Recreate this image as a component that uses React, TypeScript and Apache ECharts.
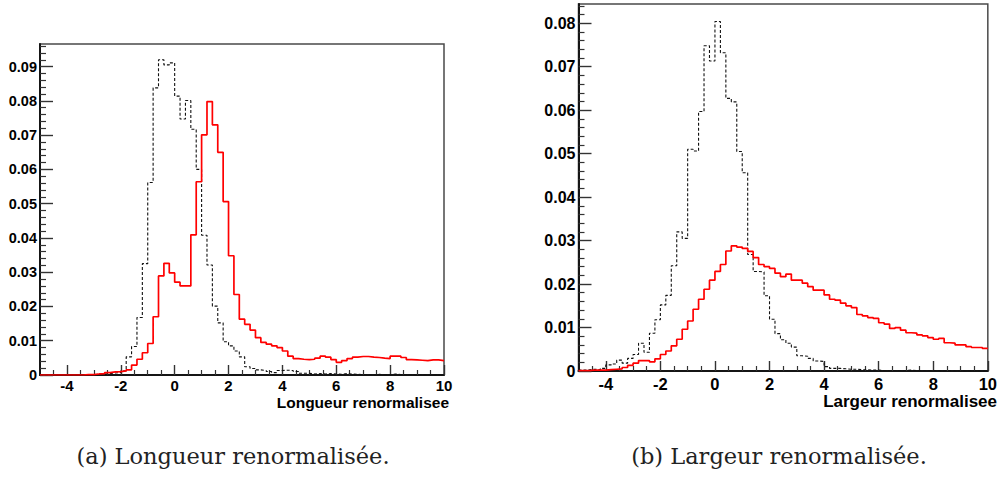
import React, { useEffect, useRef } from 'react';
import * as echarts from 'echarts';

// Histogram binning (75 bins of width 0.2 from -5 to 10)
const BIN_START = -5;
const BIN_WIDTH = 0.2;

// (a) Longueur renormalisee
const longueurBlack = [
  0, 0, 0, 0, 0, 0, 0, 0,
  0.0001, 0.0001, 0.0002, 0.0003, 0.0004, 0.0006, 0.0007, 0.0012,
  0.0053, 0.0083, 0.0168, 0.0325, 0.0562, 0.0838, 0.0920, 0.0905, 0.0911,
  0.0814, 0.0747, 0.0801, 0.0717, 0.0600, 0.0408, 0.0321, 0.0201, 0.0152, 0.0097,
  0.0085, 0.0070, 0.0053, 0.0024, 0.0019, 0.0015, 0.0013, 0.0010, 0.0007, 0.0013,
  0.0014, 0.0013, 0.0010, 0.0005, 0.0005, 0.0003, 0.0004, 0.0003, 0.0004, 0.0003,
  0.0002, 0.0004, 0.0003, 0.0002, 0.0001, 0.0001, 0.0001, 0.0002, 0.0001, 0.0001,
  0.0003, 0.0001, 0.0001, 0.0001, 0, 0.0001, 0, 0.0001, 0, 0,
];
const longueurRed = [
  0, 0, 0, 0, 0, 0, 0, 0, 0.0001, 0.0001,
  0.0003, 0.0004, 0.0007, 0.0009, 0.0010, 0.0012, 0.0015, 0.0029, 0.0046, 0.0065,
  0.0092, 0.0170, 0.0289, 0.0326, 0.0298, 0.0271, 0.0260, 0.0260, 0.0409, 0.0564,
  0.0701, 0.0798, 0.0730, 0.0650, 0.0506, 0.0348, 0.0235, 0.0163, 0.0148, 0.0131,
  0.0109, 0.0095, 0.0090, 0.0085, 0.0080, 0.0070, 0.0055, 0.0048, 0.0046, 0.0045,
  0.0046, 0.0049, 0.0055, 0.0052, 0.0045, 0.0037, 0.0042, 0.0048, 0.0052, 0.0054,
  0.0054, 0.0052, 0.0051, 0.0049, 0.0048, 0.0055, 0.0055, 0.0051, 0.0045, 0.0044,
  0.0043, 0.0042, 0.0044, 0.0044, 0.0042,
];

// (b) Largeur renormalisee
const largeurBlack = [
  0.0002, 0.0003, 0.0004, 0.0003, 0.0006, 0.0014, 0.0016, 0.0025, 0.0018, 0.0029,
  0.0038, 0.0064, 0.0043, 0.0087, 0.0118, 0.0152, 0.0174, 0.0242, 0.0320, 0.0305,
  0.0510, 0.0506, 0.0597, 0.0748, 0.0713, 0.0804, 0.0732, 0.0627, 0.0619, 0.0505,
  0.0456, 0.0268, 0.0229, 0.0228, 0.0173, 0.0119, 0.0086, 0.0072, 0.0064, 0.0055,
  0.0035, 0.0034, 0.0029, 0.0023, 0.0022, 0.0010, 0.0006, 0.0006, 0.0005, 0.0004,
  0.0004, 0.0003, 0.0003, 0.0002, 0.0002, 0.0001, 0.0001, 0.0001, 0.0001, 0.0001,
  0.0002, 0.0001, 0.0001, 0.0001, 0.0001, 0.0001, 0, 0.0001, 0, 0,
  0, 0, 0, 0, 0,
];
const largeurRed = [
  0.0001, 0.0001, 0.0002, 0.0002, 0.0002, 0.0003, 0.0004, 0.0005, 0.0008, 0.0013,
  0.0018, 0.0024, 0.0024, 0.0021, 0.0028, 0.0038, 0.0046, 0.0058, 0.0073, 0.0096,
  0.0115, 0.0142, 0.0165, 0.0188, 0.0209, 0.0229, 0.0245, 0.0276, 0.0288, 0.0285,
  0.0282, 0.0275, 0.0261, 0.0245, 0.0240, 0.0236, 0.0225, 0.0217, 0.0223, 0.0209,
  0.0209, 0.0202, 0.0194, 0.0186, 0.0186, 0.0175, 0.0165, 0.0163, 0.0156, 0.0150,
  0.0146, 0.0130, 0.0127, 0.0123, 0.0121, 0.0111, 0.0108, 0.0098, 0.0100, 0.0094,
  0.0088, 0.0087, 0.0083, 0.0081, 0.0077, 0.0073, 0.0075, 0.0065, 0.0064, 0.0060,
  0.0060, 0.0056, 0.0054, 0.0054, 0.0052,
];

// Axis ticks / labels
const xTicks = [-4, -2, 0, 2, 4, 6, 8, 10];
const xMinorStep = 0.5;
const yTicksA = [0, 0.01, 0.02, 0.03, 0.04, 0.05, 0.06, 0.07, 0.08, 0.09];
const yTicksB = [0, 0.01, 0.02, 0.03, 0.04, 0.05, 0.06, 0.07, 0.08];
const yMinorStep = 0.002;

const xTitleA = 'Longueur renormalisee';
const xTitleB = 'Largeur renormalisee';
const captionA = '(a) Longueur renormalisée.';
const captionB = '(b) Largeur renormalisée.';

const X_MIN = -5;
const X_MAX = 10;
const SANS = '"Liberation Sans", Arial, Helvetica, sans-serif';
const SERIF = '"DejaVu Serif", serif';

function histPoints(values: number[]) {
  const pts: number[][] = values.map((v, i) => [+(BIN_START + i * BIN_WIDTH).toFixed(6), v]);
  pts.push([+(BIN_START + values.length * BIN_WIDTH).toFixed(6), values[values.length - 1]]);
  return pts;
}

function minorTicks(min: number, max: number, step: number, majors: number[]) {
  const out: number[] = [];
  const n = Math.floor((max - min) / step + 1e-9);
  for (let k = 0; k <= n; k++) {
    const v = +(min + k * step).toFixed(6);
    if (v <= min + 1e-9 || v >= max - 1e-9) continue;
    if (majors.some((m) => Math.abs(m - v) < 1e-9)) continue;
    out.push(v);
  }
  return out;
}

function makeAxes(grid: number, yMax: number, yTicks: number[], fsY: number, fsX: number, xMargin: number) {
  const xMinor = minorTicks(X_MIN, X_MAX, xMinorStep, xTicks);
  const yMinor = minorTicks(0, yMax, yMinorStep, yTicks);
  const xAxes = [
    {
      type: 'value', gridIndex: grid, min: X_MIN, max: X_MAX, position: 'bottom',
      axisLine: { show: true, onZero: false, lineStyle: { color: '#151515', width: 2 } },
      axisTick: { show: true, inside: true, length: 10, customValues: xTicks, lineStyle: { color: '#333', width: 1.4 } },
      axisLabel: {
        show: true, customValues: xTicks, margin: xMargin, color: '#000', fontFamily: SANS,
        fontWeight: 'bold', fontSize: fsX, formatter: (v: number) => String(v),
      },
      splitLine: { show: false },
    },
    {
      type: 'value', gridIndex: grid, min: X_MIN, max: X_MAX, position: 'bottom',
      axisLine: { show: false, onZero: false },
      axisTick: { show: true, inside: true, length: 5, customValues: xMinor, lineStyle: { color: '#333', width: 1.2 } },
      axisLabel: { show: false },
      splitLine: { show: false },
    },
  ];
  const yAxes = [
    {
      type: 'value', gridIndex: grid, min: 0, max: yMax, position: 'left',
      axisLine: { show: true, onZero: false, lineStyle: { color: '#151515', width: 2 } },
      axisTick: { show: true, inside: true, length: 13, customValues: yTicks, lineStyle: { color: '#333', width: 1.4 } },
      axisLabel: {
        show: true, customValues: yTicks, margin: 3, color: '#000', fontFamily: SANS,
        fontWeight: 'bold', fontSize: fsY, formatter: (v: number) => (v === 0 ? '0' : v.toFixed(2)),
      },
      splitLine: { show: false },
    },
    {
      type: 'value', gridIndex: grid, min: 0, max: yMax, position: 'left',
      axisLine: { show: false, onZero: false },
      axisTick: { show: true, inside: true, length: 6, customValues: yMinor, lineStyle: { color: '#333', width: 1.2 } },
      axisLabel: { show: false },
      splitLine: { show: false },
    },
  ];
  return { xAxes, yAxes };
}

export default function App() {
  const ref = useRef<HTMLDivElement>(null);

  useEffect(() => {
    if (!ref.current) return;
    const chart = echarts.init(ref.current, undefined, { renderer: 'svg' });

    const yMaxA = 1.05 * Math.max(...longueurBlack, ...longueurRed);
    const yMaxB = 1.05 * Math.max(...largeurBlack, ...largeurRed);

    const a = makeAxes(0, yMaxA, yTicksA, 14.5, 15, 3);
    const b = makeAxes(1, yMaxB, yTicksB, 16, 16.5, 4);

    const redStyle = { color: '#ff0000', width: 1.7 };
    const blackStyle = { color: '#111', width: 1.1, type: [3, 2] };

    const option: any = {
      animation: false,
      backgroundColor: '#ffffff',
      grid: [
        { left: 40, top: 44, width: 404, height: 331, show: true, borderColor: '#4a4a4a', borderWidth: 1.5, backgroundColor: 'transparent' },
        { left: 578.5, top: 4, width: 410, height: 367, show: true, borderColor: '#4a4a4a', borderWidth: 1.5, backgroundColor: 'transparent' },
      ],
      xAxis: [...a.xAxes, ...b.xAxes],
      yAxis: [...a.yAxes, ...b.yAxes],
      series: [
        { type: 'line', name: 'a-black', xAxisIndex: 0, yAxisIndex: 0, step: 'end', symbol: 'none', data: histPoints(longueurBlack), lineStyle: blackStyle, clip: true, z: 2 },
        { type: 'line', name: 'a-red', xAxisIndex: 0, yAxisIndex: 0, step: 'end', symbol: 'none', data: histPoints(longueurRed), lineStyle: redStyle, clip: true, z: 3 },
        { type: 'line', name: 'b-black', xAxisIndex: 2, yAxisIndex: 2, step: 'end', symbol: 'none', data: histPoints(largeurBlack), lineStyle: blackStyle, clip: true, z: 2 },
        { type: 'line', name: 'b-red', xAxisIndex: 2, yAxisIndex: 2, step: 'end', symbol: 'none', data: histPoints(largeurRed), lineStyle: redStyle, clip: true, z: 3 },
      ],
      graphic: [
        {
          type: 'text', x: 449, y: 402.5,
          style: { text: xTitleA, align: 'right', verticalAlign: 'middle', textAlign: 'right', textVerticalAlign: 'middle', fontFamily: SANS, fontWeight: 'bold', fontSize: 15.5, fill: '#000' },
        },
        {
          type: 'text', x: 997, y: 401.5,
          style: { text: xTitleB, align: 'right', verticalAlign: 'middle', textAlign: 'right', textVerticalAlign: 'middle', fontFamily: SANS, fontWeight: 'bold', fontSize: 17, fill: '#000' },
        },
        {
          type: 'text', x: 233, y: 456,
          style: { text: captionA, align: 'center', verticalAlign: 'middle', textAlign: 'center', textVerticalAlign: 'middle', fontFamily: SERIF, fontSize: 22.5, fill: '#222' },
        },
        {
          type: 'text', x: 779, y: 456,
          style: { text: captionB, align: 'center', verticalAlign: 'middle', textAlign: 'center', textVerticalAlign: 'middle', fontFamily: SERIF, fontSize: 22.5, fill: '#222' },
        },
      ],
    };

    chart.setOption(option);
    return () => chart.dispose();
  }, []);

  return (
    <div
      ref={ref}
      style={{ position: 'fixed', left: 0, top: 0, width: 1000, height: 493, background: '#fff' }}
    />
  );
}
